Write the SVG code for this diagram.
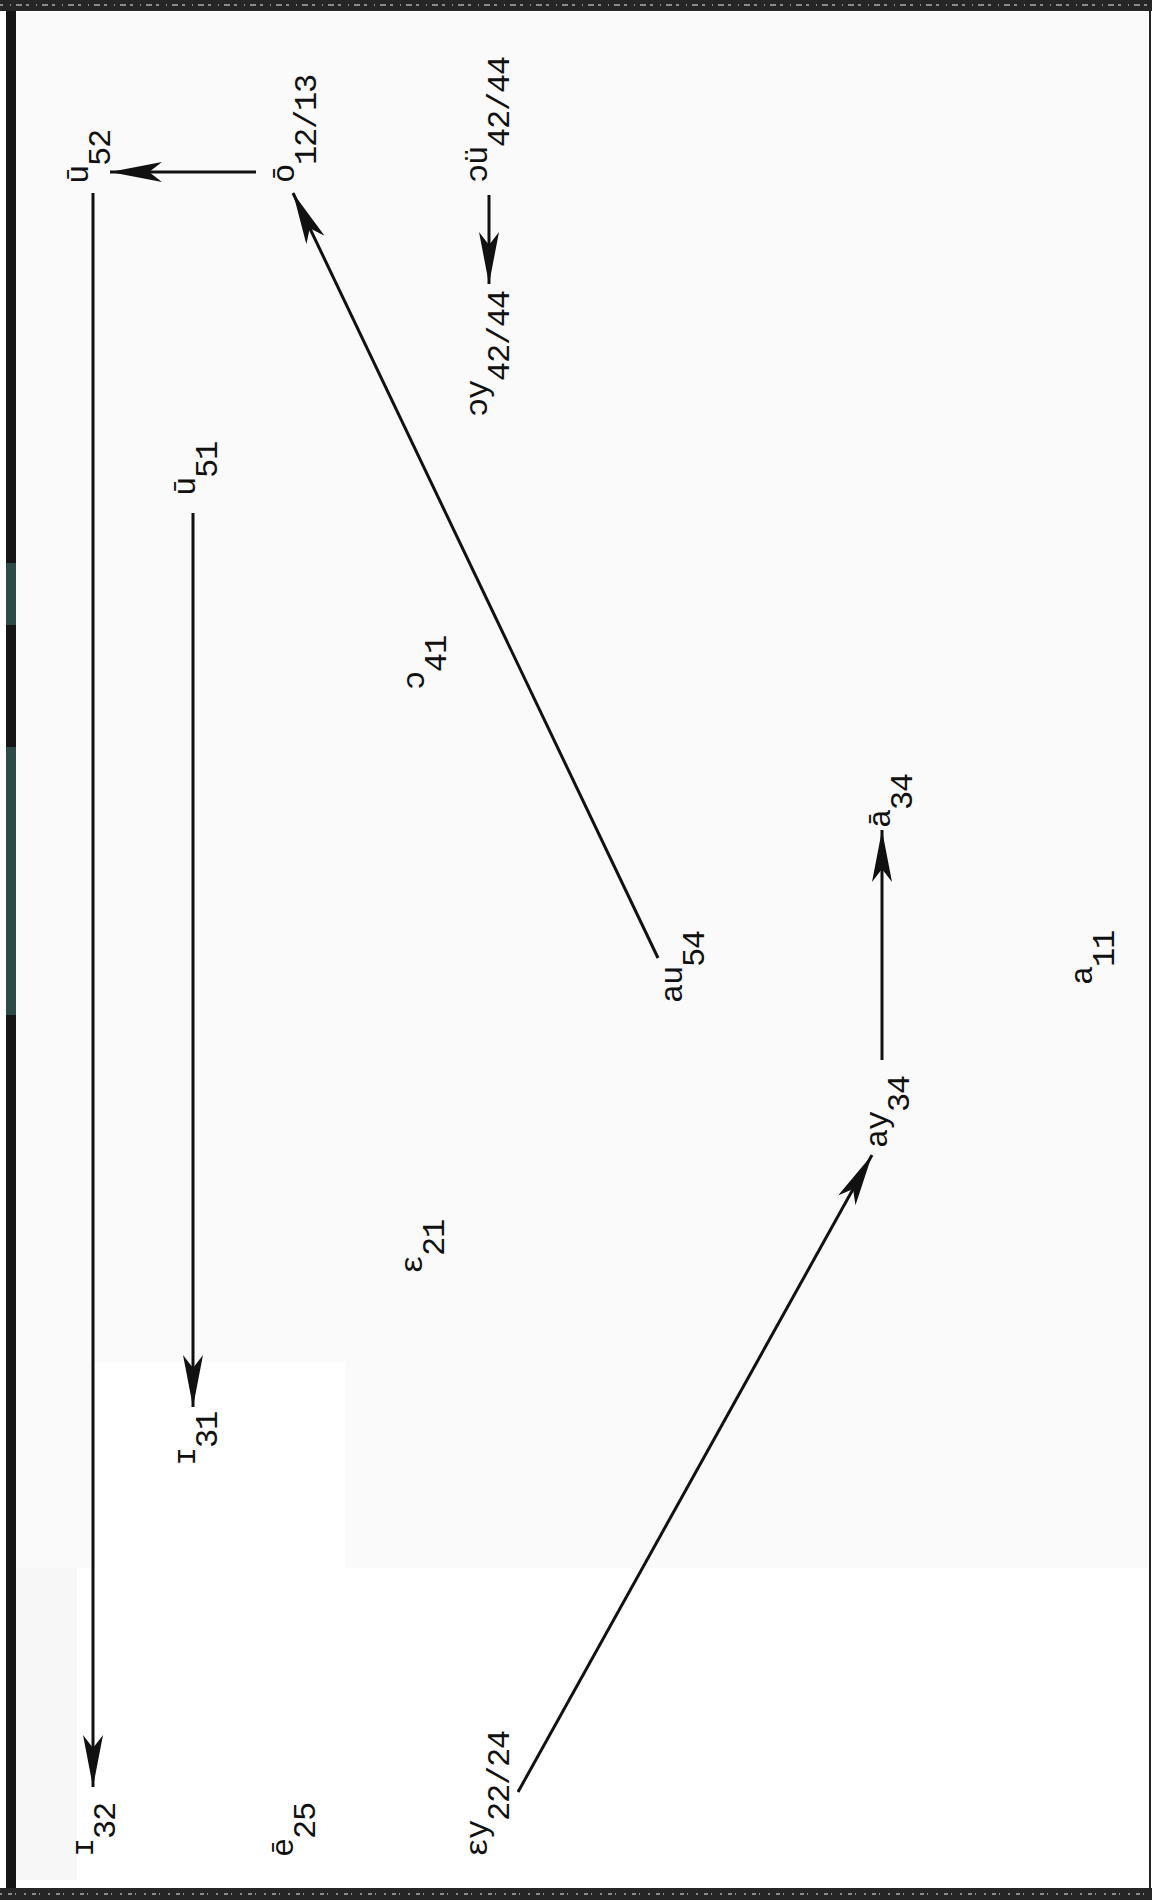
<svg xmlns="http://www.w3.org/2000/svg" width="1152" height="1900" viewBox="0 0 1152 1900">
<style>
.lbl{font-family:"Liberation Mono","DejaVu Sans Mono",monospace;font-size:32px;letter-spacing:-1.2px;fill:#111}
.edge{stroke:#111;stroke-width:3;fill:none}
</style>
<defs>
<marker id="ah" viewBox="0 0 52 20" refX="52" refY="10" markerWidth="52" markerHeight="20" markerUnits="userSpaceOnUse" orient="auto">
<path d="M0,0 L52,10 L0,20 L13,10 Z" fill="#111"/>
</marker>
</defs>
<g id="page">
<rect x="0" y="0" width="1152" height="1900" fill="#ffffff"/>
<rect x="16" y="12" width="1132" height="1556" fill="#fafafa"/>
<rect x="92" y="1363" width="253" height="205" fill="#ffffff"/>
<rect x="16" y="1568" width="61" height="312" fill="#f7f7f7"/>
<rect x="6" y="0" width="10" height="1900" fill="#151515"/>
<rect x="6" y="563" width="10" height="62" fill="#2c4a46"/>
<rect x="6" y="747" width="10" height="268" fill="#2c4a46"/>
<rect x="0" y="0" width="1152" height="11" fill="#262626"/>
<line x1="0" y1="5" x2="1152" y2="5" stroke="#8a8a8a" stroke-width="2" stroke-dasharray="3 7 1 5 6 4"/>
<rect x="0" y="1888" width="1152" height="12" fill="#262626"/>
<line x1="0" y1="1894" x2="1152" y2="1894" stroke="#8a8a8a" stroke-width="2" stroke-dasharray="2 6 4 3 1 8"/>
<line x1="1150" y1="10" x2="1150" y2="1890" stroke="#222" stroke-width="2"/>
</g>
<g id="connectors">
<line class="edge" x1="93" y1="193" x2="93" y2="1787" marker-end="url(#ah)"/>
<line class="edge" x1="256" y1="172" x2="110" y2="172" marker-end="url(#ah)"/>
<line class="edge" x1="489" y1="195" x2="489" y2="284" marker-end="url(#ah)"/>
<line class="edge" x1="193" y1="513" x2="193" y2="1407" marker-end="url(#ah)"/>
<line class="edge" x1="658" y1="958" x2="293" y2="193" marker-end="url(#ah)"/>
<line class="edge" x1="882" y1="1060" x2="882" y2="830" marker-end="url(#ah)"/>
<line class="edge" x1="518" y1="1792" x2="872" y2="1155" marker-end="url(#ah)"/>
</g>
<g id="n_u52"><text class="lbl" transform="translate(88,184) rotate(-90)">ū<tspan dy="22">52</tspan></text></g>
<g id="n_o12_13"><text class="lbl" transform="translate(294,183) rotate(-90)">ō<tspan dy="22">12/13</tspan></text></g>
<g id="n_ou42_44"><text class="lbl" transform="translate(487,183) rotate(-90)">ɔü<tspan dy="22">42/44</tspan></text></g>
<g id="n_oy42_44"><text class="lbl" transform="translate(487,417) rotate(-90)">ɔy<tspan dy="22">42/44</tspan></text></g>
<g id="n_u51"><text class="lbl" transform="translate(195,496) rotate(-90)">ū<tspan dy="22">51</tspan></text></g>
<g id="n_o41"><text class="lbl" transform="translate(424,690) rotate(-90)">ɔ<tspan dy="22">41</tspan></text></g>
<g id="n_a34"><text class="lbl" transform="translate(890,828) rotate(-90)">ā<tspan dy="22">34</tspan></text></g>
<g id="n_a11"><text class="lbl" transform="translate(1092,985) rotate(-90)">a<tspan dy="22">11</tspan></text></g>
<g id="n_au54"><text class="lbl" transform="translate(682,1003) rotate(-90)">au<tspan dy="22">54</tspan></text></g>
<g id="n_ay34"><text class="lbl" transform="translate(887,1148) rotate(-90)">ay<tspan dy="22">34</tspan></text></g>
<g id="n_e21"><text class="lbl" transform="translate(422,1274) rotate(-90)">ɛ<tspan dy="22">21</tspan></text></g>
<g id="n_i31"><text class="lbl" transform="translate(195,1466) rotate(-90)">ɪ<tspan dy="22">31</tspan></text></g>
<g id="n_i32"><text class="lbl" transform="translate(93,1857) rotate(-90)">ɪ<tspan dy="22">32</tspan></text></g>
<g id="n_e25"><text class="lbl" transform="translate(293,1857) rotate(-90)">ē<tspan dy="22">25</tspan></text></g>
<g id="n_ey22_24"><text class="lbl" transform="translate(487,1857) rotate(-90)">ɛy<tspan dy="22">22/24</tspan></text></g>
</svg>
